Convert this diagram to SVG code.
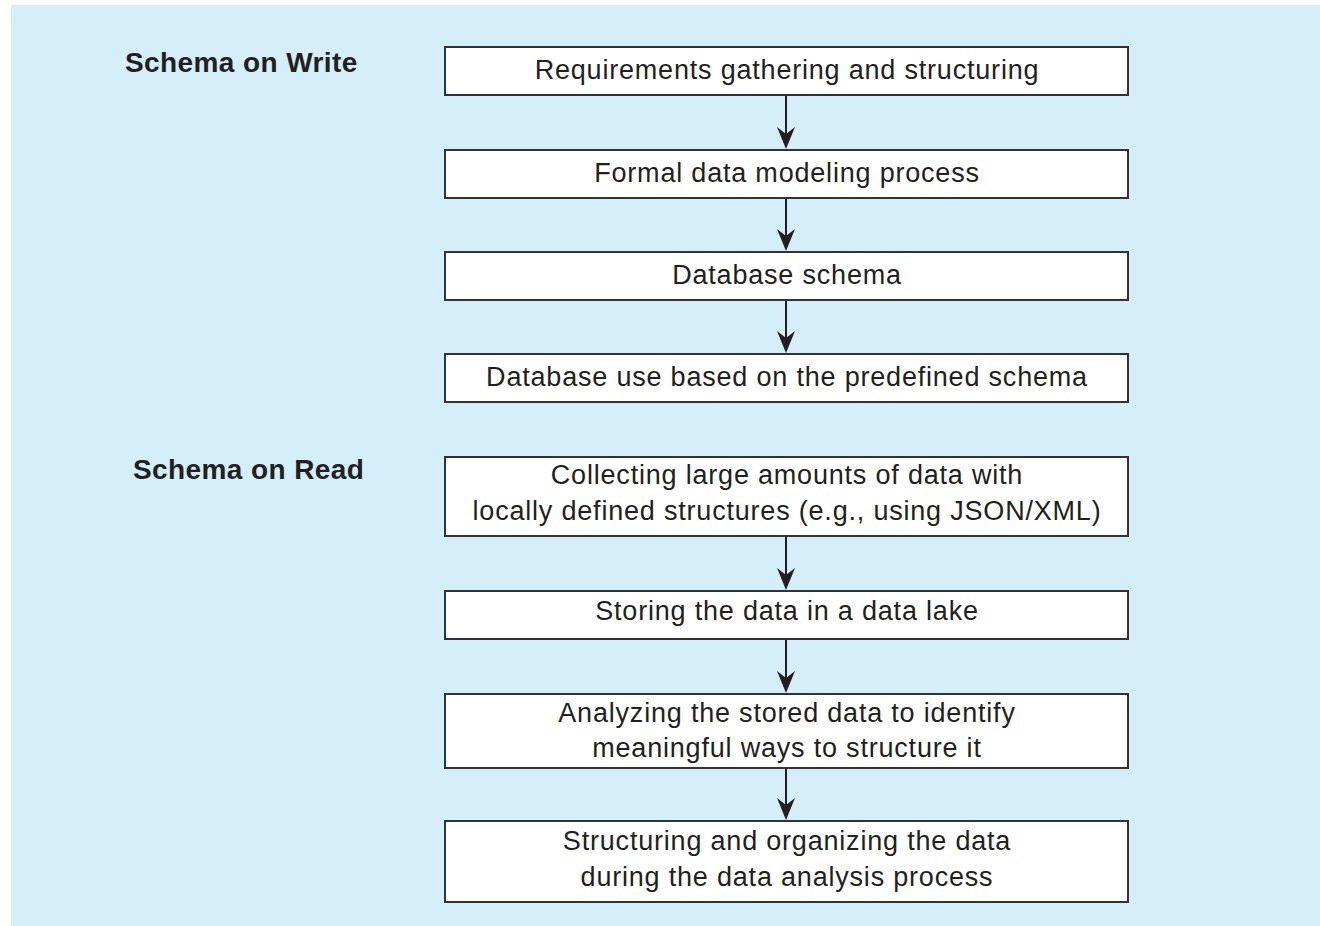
<svg xmlns="http://www.w3.org/2000/svg" width="1320" height="926" viewBox="0 0 1320 926">
<style>
.bg{fill:#d4eefa}
.box{fill:#ffffff;stroke:#333333;stroke-width:2}
.t{font-family:"Liberation Sans",Arial,sans-serif;font-size:27px;letter-spacing:0.8px;fill:#231f20;text-anchor:middle}
.h{font-family:"Liberation Sans",Arial,sans-serif;font-size:28px;font-weight:bold;letter-spacing:0.4px;fill:#231f20}
.c{stroke:#231f20;stroke-width:2;fill:none}
.ah{fill:#231f20}
</style>
<defs>
<path id="head" d="M-9,-22 L0,-15 L9,-22 L0,0 z"/>
</defs>
<rect class="bg" x="11" y="5" width="1309" height="921"/>
<g id="label-write"><text class="h" x="125" y="72">Schema on Write</text></g>
<g id="label-read"><text class="h" x="133" y="479">Schema on Read</text></g>
<g id="n1"><rect class="box" x="445" y="47" width="683" height="48"/><text class="t" x="787" y="79">Requirements gathering and structuring</text></g>
<g id="n2"><rect class="box" x="445" y="150" width="683" height="48"/><text class="t" x="787" y="182">Formal data modeling process</text></g>
<g id="n3"><rect class="box" x="445" y="252" width="683" height="48"/><text class="t" x="787" y="284">Database schema</text></g>
<g id="n4"><rect class="box" x="445" y="354" width="683" height="48"/><text class="t" x="787" y="386">Database use based on the predefined schema</text></g>
<g id="n5"><rect class="box" x="445" y="457" width="683" height="79"/><text class="t" x="787" y="484">Collecting large amounts of data with</text><text class="t" x="787" y="520">locally defined structures (e.g., using JSON/XML)</text></g>
<g id="n6"><rect class="box" x="445" y="591" width="683" height="48"/><text class="t" x="787" y="620">Storing the data in a data lake</text></g>
<g id="n7"><rect class="box" x="445" y="694" width="683" height="74"/><text class="t" x="787" y="722">Analyzing the stored data to identify</text><text class="t" x="787" y="757">meaningful ways to structure it</text></g>
<g id="n8"><rect class="box" x="445" y="821" width="683" height="81"/><text class="t" x="787" y="850">Structuring and organizing the data</text><text class="t" x="787" y="886">during the data analysis process</text></g>
<g id="connectors">
<line class="c" x1="786" y1="96" x2="786" y2="140"/><use href="#head" class="ah" x="786" y="149"/>
<line class="c" x1="786" y1="199" x2="786" y2="242"/><use href="#head" class="ah" x="786" y="251"/>
<line class="c" x1="786" y1="301" x2="786" y2="344"/><use href="#head" class="ah" x="786" y="353"/>
<line class="c" x1="786" y1="537" x2="786" y2="581"/><use href="#head" class="ah" x="786" y="590"/>
<line class="c" x1="786" y1="640" x2="786" y2="684"/><use href="#head" class="ah" x="786" y="693"/>
<line class="c" x1="786" y1="769" x2="786" y2="811"/><use href="#head" class="ah" x="786" y="820"/>
</g>
</svg>
